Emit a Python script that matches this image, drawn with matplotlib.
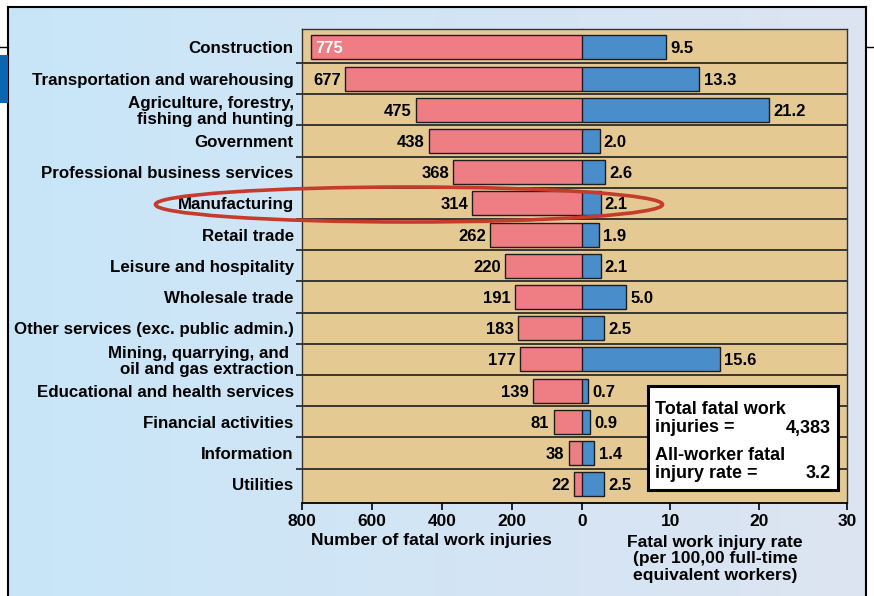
import matplotlib.pyplot as plt
from matplotlib.patches import Ellipse, Rectangle
from matplotlib.lines import Line2D
from matplotlib.colors import LinearSegmentedColormap
import numpy as np

plt.rcParams['font.family'] = ['Liberation Sans', 'DejaVu Sans']
plt.rcParams['font.weight'] = 'bold'

industries = ['Construction', 'Transportation and warehousing',
              'Agriculture, forestry,\nfishing and hunting', 'Government',
              'Professional business services', 'Manufacturing', 'Retail trade',
              'Leisure and hospitality', 'Wholesale trade',
              'Other services (exc. public admin.)',
              'Mining, quarrying, and \noil and gas extraction',
              'Educational and health services', 'Financial activities',
              'Information', 'Utilities']
fatal_counts = [775, 677, 475, 438, 368, 314, 262, 220, 191, 183, 177, 139, 81, 38, 22]
fatal_rates = [9.5, 13.3, 21.2, 2.0, 2.6, 2.1, 1.9, 2.1, 5.0, 2.5, 15.6, 0.7, 0.9, 1.4, 2.5]
count_ticks = [800, 600, 400, 200, 0]
rate_ticks = [10, 20, 30]

red = '#EE7D84'
blue = '#4A8DCB'
tan = '#E5C993'
dark = '#1E1E1E'

W, H = 874, 596
def fx(px):
    return px / W
def fy(py):
    return 1 - py / H

fig = plt.figure(figsize=(8.74, 5.96), dpi=100)
fig.patch.set_facecolor('white')

# page bits outside the panel
fig.add_artist(Line2D([0, fx(8)], [fy(47), fy(47)], color='black', lw=1))
fig.add_artist(Line2D([fx(866), 1], [fy(47), fy(47)], color='black', lw=1))
fig.add_artist(Rectangle((0, fy(103)), fx(8), 48 / H, color='#0B66B2', lw=0))

# light blue panel
bg = fig.add_axes([fx(8), 0, fx(866) - fx(8), fy(7)])
grad = np.linspace(0, 1, 256).reshape(1, -1)
cmap = LinearSegmentedColormap.from_list('panel', ['#C8E6F9', '#DDE4F1'])
bg.imshow(grad, aspect='auto', cmap=cmap, extent=[0, 1, 0, 1])
bg.set_xticks([])
bg.set_yticks([])
bg.spines['bottom'].set_visible(False)
for s in ['left', 'top', 'right']:
    bg.spines[s].set_linewidth(1.5)

y = np.arange(len(industries))
axL = fig.add_axes([fx(302), fy(503), fx(582) - fx(302), fy(29) - fy(503)])
axR = fig.add_axes([fx(582), fy(503), fx(847) - fx(582), fy(29) - fy(503)], sharey=axL)

for ax in (axL, axR):
    ax.set_facecolor(tan)
    for b in np.arange(0.5, len(industries) - 0.5, 1):
        ax.axhline(b, color=dark, lw=1.2, zorder=1)
    for s in ax.spines.values():
        s.set_color('#333333')
        s.set_linewidth(1)
    ax.spines['bottom'].set_color('black')
    ax.spines['bottom'].set_linewidth(1.3)

axL.barh(y, fatal_counts, height=0.77, color=red, edgecolor=dark, lw=1, zorder=2)
axR.barh(y, fatal_rates, height=0.77, color=blue, edgecolor=dark, lw=1, zorder=2)

axL.set_xlim(800, 0)
axR.set_xlim(0, 30)
axL.set_ylim(14.6, -0.59)
axL.spines['right'].set_visible(False)
axR.spines['left'].set_visible(False)

axL.set_yticks(y, industries, fontsize=12.2)
axL.set_yticks(np.arange(0.5, len(industries) - 0.5, 1), minor=True)
axL.tick_params(axis='y', which='major', length=0, pad=6)
axL.tick_params(axis='y', which='minor', length=4.5, width=1.2, color=dark)
for t in axL.get_yticklabels():
    t.set_linespacing(1.08)
axR.tick_params(axis='y', which='both', left=False, labelleft=False)

axL.set_xticks(count_ticks)
axR.set_xticks(rate_ticks)
for ax in (axL, axR):
    ax.tick_params(axis='x', length=5, width=1.2, labelsize=12.5, pad=3)

for i, (c, r) in enumerate(zip(fatal_counts, fatal_rates)):
    if i == 0:
        axL.annotate(f'{c}', (c, i), xytext=(3.5, -1), textcoords='offset points',
                     ha='left', va='center', color='white', fontsize=12)
    else:
        axL.annotate(f'{c}', (c, i), xytext=(-3, -1), textcoords='offset points',
                     ha='right', va='center', fontsize=12)
    axR.annotate(f'{r:.1f}', (r, i), xytext=(3, -1), textcoords='offset points',
                 ha='left', va='center', fontsize=12)

fig.text(fx(431), fy(540), 'Number of fatal work injuries', ha='center', va='center', fontsize=12.6)
fig.text(fx(715), fy(559), 'Fatal work injury rate\n(per 100,00 full-time\nequivalent workers)',
         ha='center', va='center', fontsize=12.6, linespacing=1.1)

# highlight ring round manufacturing
fig.add_artist(Ellipse((fx(409), fy(204.5)), fx(507), 35 / H, fill=False,
                       edgecolor='#C63B2B', lw=2.6, zorder=5))

# totals box
fig.add_artist(Rectangle((fx(648), fy(490)), fx(838) - fx(648), (490 - 386) / H,
                         facecolor='white', edgecolor='black', lw=2.2, zorder=4))
fig.text(fx(655), fy(409), 'Total fatal work', va='center', fontsize=13, zorder=6)
fig.text(fx(655), fy(428), 'injuries =', va='center', fontsize=13, zorder=6)
fig.text(fx(831), fy(428), '4,383', va='center', ha='right', fontsize=13, zorder=6)
fig.text(fx(655), fy(455), 'All-worker fatal', va='center', fontsize=13, zorder=6)
fig.text(fx(655), fy(473), 'injury rate =', va='center', fontsize=13, zorder=6)
fig.text(fx(831), fy(473), '3.2', va='center', ha='right', fontsize=13, zorder=6)

fig.savefig('out.png', dpi=100)
